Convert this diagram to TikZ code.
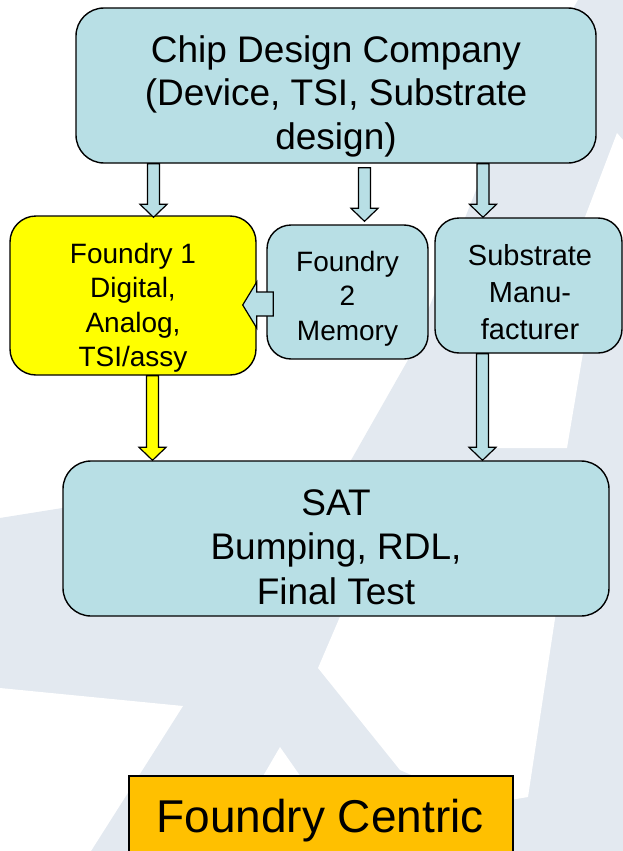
\documentclass[tikz,border=0pt]{standalone}
\usepackage{fontspec}
\setmainfont{Liberation Sans}
\usetikzlibrary{calc}
\definecolor{boxblue}{RGB}{184,223,229}
\definecolor{wm}{RGB}{227,233,240}
\definecolor{orangebox}{RGB}{255,192,0}
\definecolor{yellowbox}{RGB}{255,255,0}
\tikzset{
  bluebox/.style={draw=black, line width=1.4pt, fill=boxblue, rectangle, inner sep=0pt},
  txt/.style={anchor=base, align=center, inner sep=0pt, text=black},
  arrowline/.style={draw=black, line width=1.2pt, line join=miter},
}
\newcommand\blockdown[3]{%
  \draw[arrowline, fill=#3] ($(#1)+(-6,0)$) -- ($(#2)+(-6,-13)$) -- ($(#2)+(-13.5,-13)$) -- (#2)
    -- ($(#2)+(13.5,-13)$) -- ($(#2)+(6,-13)$) -- ($(#1)+(6,0)$) -- cycle;}
\begin{document}
\begin{tikzpicture}[x=1pt,y=-1pt]
\path[use as bounding box] (0,0) rectangle (623,851);
\clip (0,0) rectangle (623,851);
% background watermark
\fill[white] (0,0) rectangle (623,851);
\fill[wm] (0,518) -- (350,462) -- (408,360) -- (467,213) -- (492,150) -- (578,0)
  -- (623,0) -- (623,851) -- (0,851) -- cycle;
\fill[white] (0,688) -- (183,706) -- (91,851) -- (0,851) -- cycle;
\fill[white] (280,747) -- (255,790) -- (310,790) -- cycle;
\fill[white] (342,612) -- (556,612) -- (528,797) -- (480,805) -- (400,770) -- (318,668) -- cycle;
\fill[white] (617,133) -- (585,217) -- (487,353) -- (487,448) -- (567,448) -- (583,353)
  -- (623,240) -- (623,140) -- cycle;

% boxes
\node[bluebox, rounded corners=28pt, minimum width=520pt, minimum height=155pt] (chip) at (336,85.5) {};
\node[bluebox, fill=yellowbox, rounded corners=26pt, minimum width=246pt, minimum height=159pt] (f1) at (133,295.5) {};
\node[bluebox, rounded corners=24pt, minimum width=161pt, minimum height=134pt] (f2) at (347.5,292) {};
\node[bluebox, rounded corners=24pt, minimum width=187pt, minimum height=135pt] (sub) at (528.5,285.5) {};
\node[bluebox, rounded corners=28pt, minimum width=546pt, minimum height=155pt] (sat) at (336,538.5) {};
\node[draw=black, line width=1.4pt, fill=orangebox, rectangle, inner sep=0pt,
  minimum width=384pt, minimum height=114pt] (fc) at (321,833) {};

% texts (anchor base = baseline of the last line)
\node[txt, font=\fontsize{37}{43.5}\selectfont] (chipT) at (336,149.4)
  {Chip Design Company\\(Device, TSI, Substrate\\design)};
\node[txt, font=\fontsize{28}{34.6}\selectfont] (f1T) at (133,366.8)
  {Foundry 1\\Digital,\\Analog,\\TSI/assy};
\node[txt, font=\fontsize{28}{34.8}\selectfont] (f2T) at (347.5,340.6)
  {Foundry\\2\\Memory};
\node[txt, font=\fontsize{29}{37}\selectfont] (subT) at (530,339)
  {Substrate\\Manu-\\facturer};
\node[txt, font=\fontsize{37}{44.3}\selectfont] (satT) at (336,604.1)
  {SAT\\Bumping, RDL,\\Final Test};
\node[txt, font=\fontsize{46}{52}\selectfont] (fcT) at (320,832) {Foundry Centric};

% block arrows
\coordinate (a1s) at (153.5,0 |- chip.south);
\coordinate (a1t) at ($(153.5,0 |- f1.north)+(0,2)$);
\coordinate (a2s) at ($(364.5,0 |- chip.south)+(0,4)$);
\coordinate (a2t) at ($(364.5,0 |- f2.north)+(0,-3)$);
\coordinate (a3s) at (483,0 |- chip.south);
\coordinate (a3t) at (483,0 |- sub.north);
\coordinate (a4s) at (152.5,0 |- f1.south);
\coordinate (a4t) at (152.5,0 |- sat.north);
\coordinate (a5s) at (482.5,0 |- sub.south);
\coordinate (a5t) at (482.5,0 |- sat.north);
\blockdown{a1s}{a1t}{boxblue}
\blockdown{a2s}{a2t}{boxblue}
\blockdown{a3s}{a3t}{boxblue}
\blockdown{a4s}{a4t}{yellowbox}
\blockdown{a5s}{a5t}{boxblue}
% left arrow Foundry 2 -> Foundry 1
\coordinate (a6s) at ($(f2.west)+(7,12)$);
\coordinate (a6t) at ($(f1.east)+(-14,9.5)$);
\draw[arrowline, fill=boxblue] ($(a6s)+(0,-12)$) -- ($(a6t |- a6s)+(14,-12)$) -- ($(a6t)+(14,-23)$)
  -- (a6t) -- ($(a6t)+(14,23)$) -- ($(a6t |- a6s)+(14,12)$) -- ($(a6s)+(0,12)$) -- cycle;
\end{tikzpicture}
\end{document}
